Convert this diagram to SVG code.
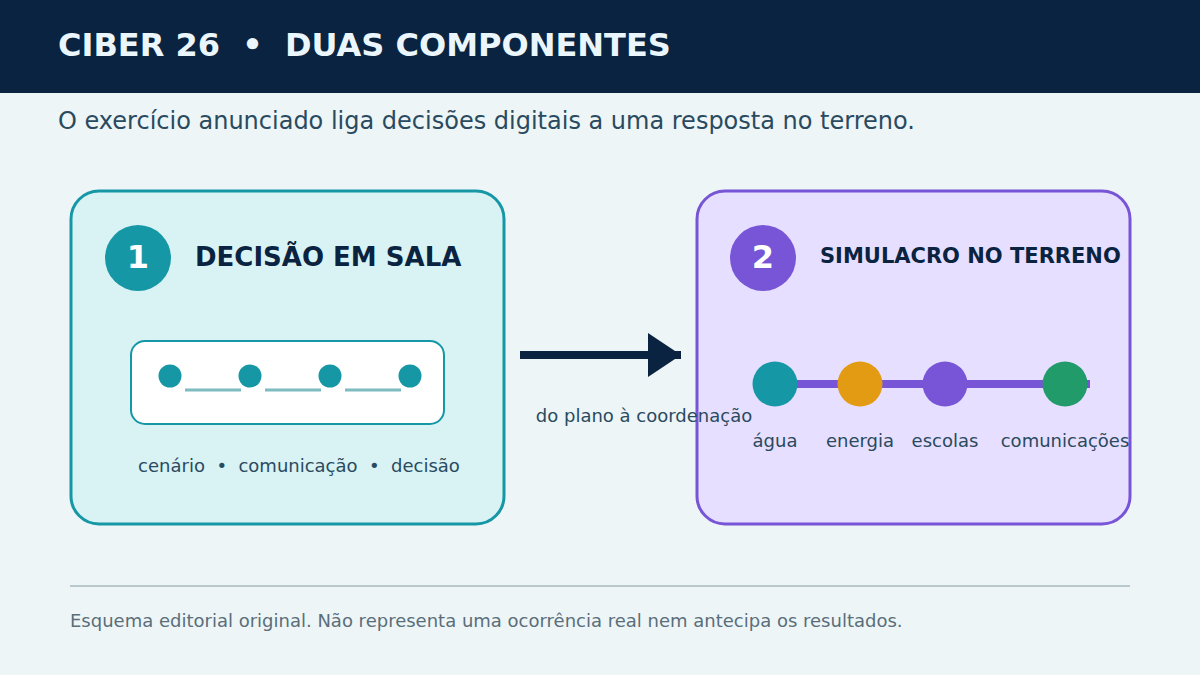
<svg xmlns="http://www.w3.org/2000/svg" width="1200" height="675" viewBox="0 0 1200 675">
<style>
text{font-family:"DejaVu Sans",sans-serif}
.lbl{font-size:18px;fill:#2a4a60}
.card{stroke-width:3}
.num{font-size:32px;font-weight:bold;fill:#ffffff}
</style>
<rect width="1200" height="675" fill="#edf5f7"/>
<g id="header">
<rect x="0" y="0" width="1200" height="93" fill="#0a2340"/>
<text x="58" y="56" font-size="32" font-weight="bold" fill="#eaf6fb" xml:space="preserve">CIBER 26  •  DUAS COMPONENTES</text>
</g>
<text id="subtitle" x="58" y="129" font-size="24" fill="#2a4a60">O exercício anunciado liga decisões digitais a uma resposta no terreno.</text>
<g id="card1">
<rect class="card" x="71" y="191" width="433" height="333" rx="28" fill="#d9f2f4" stroke="#1697a6"/>
<circle cx="138" cy="258" r="33" fill="#1697a6"/>
<text class="num" x="138" y="268" text-anchor="middle">1</text>
<text x="195" y="266" font-size="26" font-weight="bold" fill="#0a2340">DECISÃO EM SALA</text>
<rect x="131" y="341" width="313" height="83" rx="14" fill="#ffffff" stroke="#1697a6" stroke-width="2"/>
<g stroke="#7fbcc2" stroke-width="3">
<line x1="185" y1="390" x2="241" y2="390"/>
<line x1="265" y1="390" x2="321" y2="390"/>
<line x1="345" y1="390" x2="401" y2="390"/>
</g>
<g fill="#1697a6">
<circle cx="170" cy="376" r="11.5"/>
<circle cx="250" cy="376" r="11.5"/>
<circle cx="330" cy="376" r="11.5"/>
<circle cx="410" cy="376" r="11.5"/>
</g>
<text class="lbl" x="299" y="472" text-anchor="middle" xml:space="preserve">cenário  •  comunicação  •  decisão</text>
</g>
<g id="card2">
<rect class="card" x="697" y="191" width="433" height="333" rx="28" fill="#e6dfff" stroke="#7755d6"/>
<circle cx="763" cy="258" r="33" fill="#7755d6"/>
<text class="num" x="763" y="268" text-anchor="middle">2</text>
<text x="820" y="263" font-size="21" font-weight="bold" fill="#0a2340">SIMULACRO NO TERRENO</text>
<line x1="775" y1="384" x2="1090" y2="384" stroke="#7755d6" stroke-width="8"/>
<circle cx="775" cy="384" r="22.5" fill="#1697a6"/>
<circle cx="860" cy="384" r="22.5" fill="#e39b14"/>
<circle cx="945" cy="384" r="22.5" fill="#7755d6"/>
<circle cx="1065" cy="384" r="22.5" fill="#219b6a"/>
<text class="lbl" x="775" y="447" text-anchor="middle">água</text>
<text class="lbl" x="860" y="447" text-anchor="middle">energia</text>
<text class="lbl" x="945" y="447" text-anchor="middle">escolas</text>
<text class="lbl" x="1065" y="447" text-anchor="middle">comunicações</text>
</g>
<g id="connectors">
<line x1="520" y1="355" x2="681" y2="355" stroke="#0a2340" stroke-width="8"/>
<polygon points="648,333 681,355 648,377" fill="#0a2340"/>
<text class="lbl" x="644" y="422" text-anchor="middle">do plano à coordenação</text>
</g>
<g id="footer">
<line x1="70" y1="586" x2="1130" y2="586" stroke="#b8c8cc" stroke-width="2"/>
<text x="70" y="627" font-size="18" fill="#5a6e7a">Esquema editorial original. Não representa uma ocorrência real nem antecipa os resultados.</text>
</g>
</svg>
